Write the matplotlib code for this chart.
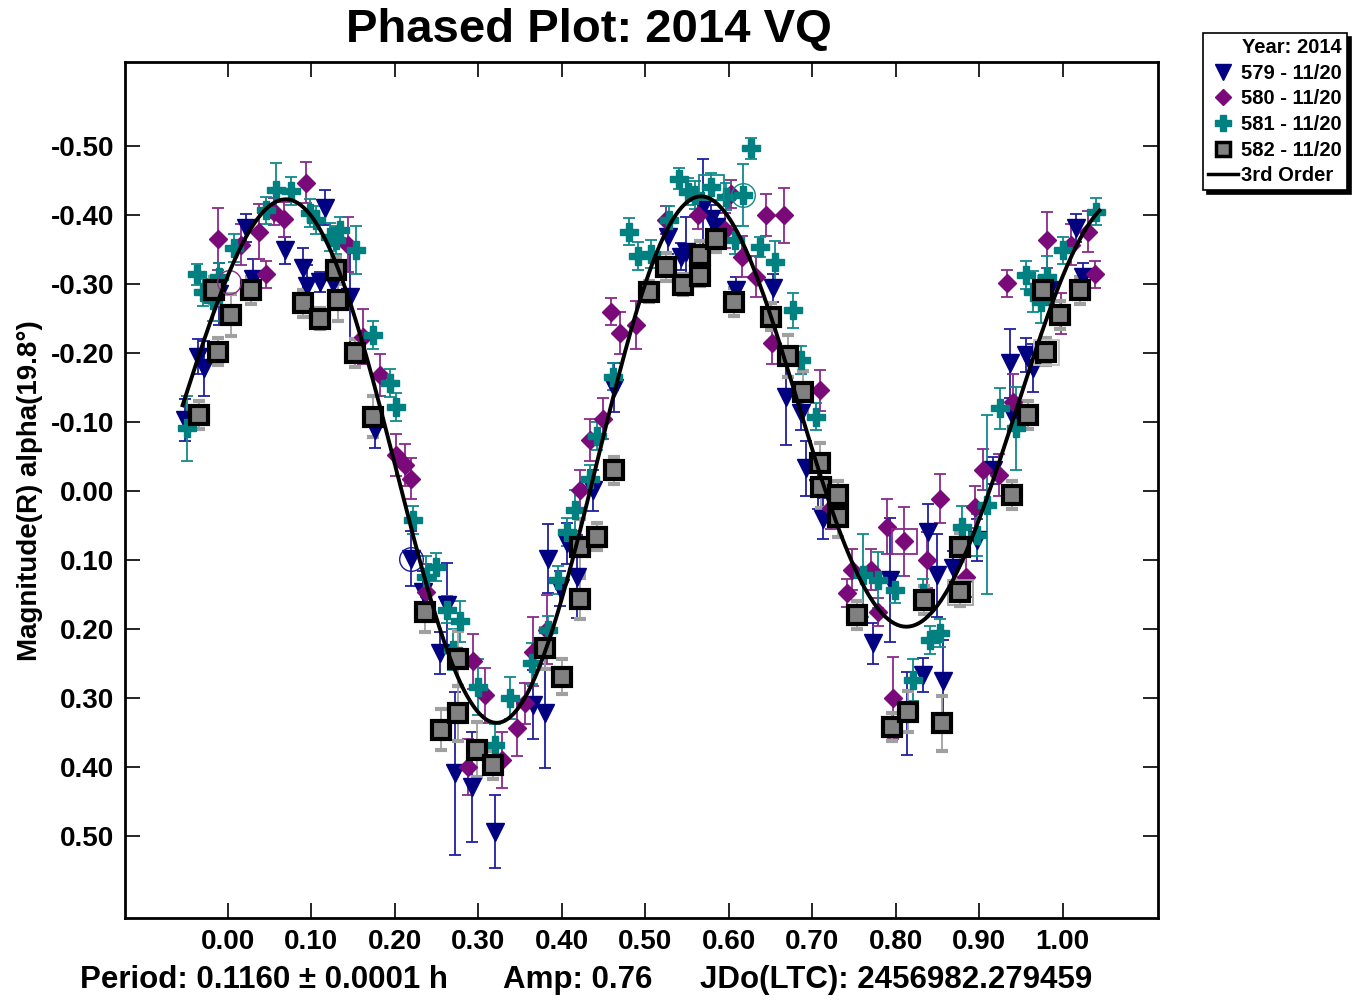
import numpy as np
import matplotlib
matplotlib.use("Agg")
import matplotlib.pyplot as plt
from matplotlib.lines import Line2D

plt.rcParams['font.family'] = ['Liberation Sans', 'DejaVu Sans']
plt.rcParams['font.weight'] = 'bold'

# session 579 (phase, mag, error)
ph_579 = [-0.051, -0.036, -0.028, -0.010, 0.022, 0.030, 0.068, 0.090, 0.095, 0.110, 0.116, 0.126,
          0.146, 0.176, 0.220, 0.234, 0.262, 0.254, 0.272, 0.292, 0.320, 0.366, 0.380, 0.384,
          0.398, 0.406, 0.418, 0.438, 0.463, 0.527, 0.543, 0.549, 0.569, 0.579, 0.585, 0.609,
          0.653, 0.669, 0.687, 0.693, 0.707, 0.713, 0.773, 0.793, 0.839, 0.849, 0.833, 0.857,
          0.813, 0.897, 0.917, 0.869, 0.937, 0.956, 0.964, 0.940, 1.016, 1.024, 0.984]
mag_579 = [-0.103, -0.195, -0.178, -0.285, -0.381, -0.307, -0.349, -0.323, -0.297, -0.303, -0.411, -0.301,
           -0.282, -0.088, 0.098, 0.146, 0.165, 0.235, 0.409, 0.429, 0.494, 0.310, 0.322, 0.098,
           0.141, 0.076, 0.124, -0.001, -0.150, -0.369, -0.340, -0.347, -0.412, -0.395, -0.383, -0.291,
           -0.294, -0.137, -0.113, -0.033, -0.004, 0.040, 0.221, 0.129, 0.059, 0.122, 0.267, 0.276,
           0.322, 0.071, -0.030, 0.112, -0.185, -0.197, -0.178, -0.108, -0.381, -0.311, -0.291]
err_579 = [0.030, 0.025, 0.040, 0.045, 0.020, 0.030, 0.020, 0.030, 0.030, 0.015, 0.025, 0.020,
           0.070, 0.025, 0.040, 0.030, 0.060, 0.030, 0.118, 0.080, 0.053, 0.050, 0.080, 0.050,
           0.025, 0.030, 0.060, 0.030, 0.035, 0.025, 0.020, 0.050, 0.070, 0.020, 0.020, 0.020,
           0.020, 0.070, 0.025, 0.040, 0.030, 0.030, 0.030, 0.090, 0.040, 0.060, 0.025, 0.060,
           0.060, 0.030, 0.020, 0.025, 0.050, 0.025, 0.035, 0.020, 0.020, 0.020, 0.020]

# session 580
ph_580 = [-0.012, 0.016, 0.038, 0.046, 0.056, 0.067, 0.094, 0.144, 0.162, 0.182, 0.202, 0.212,
          0.220, 0.238, 0.294, 0.308, 0.288, 0.328, 0.346, 0.356, 0.366, 0.382, 0.422, 0.434,
          0.449, 0.459, 0.470, 0.489, 0.525, 0.563, 0.595, 0.603, 0.616, 0.633, 0.645, 0.666,
          0.652, 0.709, 0.723, 0.747, 0.741, 0.770, 0.779, 0.789, 0.810, 0.797, 0.837, 0.853,
          0.884, 0.895, 0.904, 0.924, 0.940, 0.933, 0.981, 1.030, 1.039, 0.998, 1.010]
mag_580 = [-0.365, -0.357, -0.376, -0.314, -0.405, -0.394, -0.447, -0.357, -0.224, -0.168, -0.052, -0.038,
           -0.018, 0.146, 0.247, 0.296, 0.400, 0.390, 0.344, 0.308, 0.233, 0.201, -0.001, -0.074,
           -0.105, -0.260, -0.229, -0.241, -0.393, -0.400, -0.378, -0.431, -0.340, -0.311, -0.400, -0.400,
           -0.214, -0.146, 0.025, 0.114, 0.148, 0.114, 0.175, 0.052, 0.073, 0.300, 0.100, 0.011,
           0.124, 0.023, -0.031, -0.023, -0.129, -0.301, -0.364, -0.376, -0.314, -0.257, -0.357]
err_580 = [0.045, 0.030, 0.040, 0.020, 0.020, 0.025, 0.030, 0.040, 0.040, 0.030, 0.030, 0.030,
           0.030, 0.040, 0.040, 0.040, 0.040, 0.040, 0.040, 0.030, 0.050, 0.050, 0.030, 0.030,
           0.030, 0.020, 0.030, 0.035, 0.020, 0.020, 0.025, 0.020, 0.030, 0.030, 0.030, 0.040,
           0.030, 0.030, 0.030, 0.030, 0.020, 0.030, 0.020, 0.040, 0.050, 0.060, 0.040, 0.035,
           0.030, 0.030, 0.030, 0.030, 0.040, 0.020, 0.040, 0.030, 0.020, 0.030, 0.030]

# session 581
ph_581 = [-0.049, -0.037, -0.030, -0.018, -0.010, 0.008, 0.046, 0.058, 0.076, 0.098, 0.106, 0.122,
          0.134, 0.130, 0.154, 0.174, 0.194, 0.202, 0.222, 0.250, 0.238, 0.262, 0.278, 0.270,
          0.300, 0.320, 0.338, 0.364, 0.384, 0.396, 0.406, 0.416, 0.434, 0.442, 0.461, 0.481,
          0.491, 0.507, 0.529, 0.541, 0.551, 0.559, 0.579, 0.597, 0.607, 0.617, 0.627, 0.637,
          0.655, 0.677, 0.687, 0.705, 0.761, 0.779, 0.799, 0.833, 0.841, 0.853, 0.821, 0.879,
          0.897, 0.909, 0.925, 0.944, 0.956, 0.964, 0.974, 0.981, 1.000, 1.040]
mag_581 = [-0.091, -0.314, -0.288, -0.277, -0.310, -0.352, -0.407, -0.436, -0.435, -0.403, -0.393, -0.368,
           -0.378, -0.364, -0.349, -0.226, -0.157, -0.122, 0.042, 0.110, 0.124, 0.172, 0.189, 0.230,
           0.284, 0.368, 0.300, 0.250, 0.201, 0.129, 0.059, 0.028, -0.018, -0.080, -0.166, -0.376,
           -0.341, -0.344, -0.393, -0.453, -0.434, -0.429, -0.441, -0.427, -0.364, -0.429, -0.497, -0.354,
           -0.332, -0.262, -0.190, -0.108, 0.122, 0.129, 0.143, 0.148, 0.216, 0.206, 0.274, 0.052,
           0.064, 0.020, -0.120, -0.091, -0.313, -0.289, -0.274, -0.311, -0.349, -0.405]
err_581 = [0.047, 0.015, 0.020, 0.030, 0.020, 0.020, 0.020, 0.040, 0.020, 0.020, 0.020, 0.020,
           0.020, 0.020, 0.035, 0.020, 0.020, 0.020, 0.020, 0.020, 0.030, 0.020, 0.030, 0.030,
           0.040, 0.030, 0.030, 0.030, 0.020, 0.020, 0.020, 0.030, 0.020, 0.020, 0.020, 0.020,
           0.020, 0.020, 0.020, 0.015, 0.020, 0.020, 0.020, 0.020, 0.020, 0.045, 0.015, 0.015,
           0.030, 0.025, 0.020, 0.020, 0.060, 0.040, 0.020, 0.020, 0.020, 0.020, 0.030, 0.030,
           0.030, 0.130, 0.030, 0.060, 0.020, 0.030, 0.030, 0.030, 0.020, 0.020]

# session 582
ph_582 = [-0.034, -0.012, -0.016, 0.004, 0.028, 0.090, 0.110, 0.130, 0.132, 0.152, 0.174, 0.236,
          0.276, 0.256, 0.276, 0.298, 0.318, 0.380, 0.400, 0.422, 0.422, 0.442, 0.463, 0.505,
          0.525, 0.545, 0.565, 0.566, 0.585, 0.606, 0.650, 0.671, 0.689, 0.709, 0.711, 0.731,
          0.731, 0.753, 0.795, 0.815, 0.834, 0.855, 0.877, 0.877, 0.939, 0.958, 0.980, 0.997,
          0.976, 1.020]
mag_582 = [-0.110, -0.202, -0.291, -0.255, -0.291, -0.272, -0.250, -0.320, -0.277, -0.200, -0.108, 0.175,
           0.243, 0.346, 0.322, 0.375, 0.397, 0.228, 0.269, 0.156, 0.081, 0.066, -0.030, -0.289,
           -0.325, -0.299, -0.342, -0.312, -0.366, -0.274, -0.253, -0.196, -0.144, -0.040, -0.006, 0.006,
           0.037, 0.180, 0.342, 0.320, 0.158, 0.337, 0.081, 0.146, 0.006, -0.110, -0.202, -0.255,
           -0.291, -0.291]
err_582 = [0.020, 0.020, 0.020, 0.030, 0.020, 0.020, 0.015, 0.020, 0.030, 0.020, 0.030, 0.030,
           0.040, 0.030, 0.040, 0.040, 0.020, 0.030, 0.025, 0.030, 0.040, 0.020, 0.020, 0.015,
           0.020, 0.015, 0.020, 0.015, 0.020, 0.020, 0.020, 0.030, 0.030, 0.030, 0.030, 0.020,
           0.030, 0.020, 0.020, 0.030, 0.020, 0.040, 0.020, 0.020, 0.020, 0.020, 0.020, 0.020,
           0.020, 0.020]

# flagged points (drawn with an open outline)
flag_circle_ph = [0.220, 0.002, 0.617]
flag_circle_mag = [0.098, -0.303, -0.429]
flag_circle_col = ['#1a1a9a', '#8a2a8a', '#108a8a']
flag_square_ph = [0.579, 0.810, 0.877, 0.980]
flag_square_mag = [-0.441, 0.073, 0.146, -0.202]
flag_square_col = ['#108a8a', '#8a2a8a', '#a0a0a0', '#c0c0c0']

# fitted lightcurve, sampled along the drawn 3rd order curve
curve_ph = [-0.054, -0.034, -0.010, 0.011, 0.030, 0.071, 0.110, 0.130, 0.150, 0.170, 0.190, 0.218,
            0.242, 0.266, 0.290, 0.317, 0.346, 0.365, 0.386, 0.410, 0.434, 0.461, 0.481, 0.502,
            0.521, 0.541, 0.565, 0.581, 0.601, 0.621, 0.641, 0.661, 0.681, 0.701, 0.717, 0.737,
            0.757, 0.777, 0.797, 0.813, 0.837, 0.857, 0.877, 0.897, 0.921, 0.940, 0.960, 0.981,
            1.020, 1.041]
curve_mag = [-0.103, -0.183, -0.277, -0.339, -0.378, -0.414, -0.383, -0.330, -0.272, -0.186, -0.103, 0.061,
             0.177, 0.245, 0.293, 0.332, 0.317, 0.274, 0.216, 0.110, -0.006, -0.136, -0.223, -0.301,
             -0.364, -0.403, -0.425, -0.422, -0.397, -0.354, -0.291, -0.214, -0.136, -0.059, 0.017, 0.067,
             0.125, 0.168, 0.191, 0.201, 0.191, 0.158, 0.110, 0.032, -0.041, -0.117, -0.190, -0.258,
             -0.364, -0.403]
order = 3

# 3rd order Fourier fit
cp = np.array(curve_ph)
cols = [np.ones_like(cp)]
for k in range(1, order + 1):
    cols += [np.cos(2 * np.pi * k * cp), np.sin(2 * np.pi * k * cp)]
coef = np.linalg.lstsq(np.column_stack(cols), np.array(curve_mag), rcond=None)[0]
fit_x = np.linspace(-0.054, 1.044, 600)
fit_y = coef[0] * np.ones_like(fit_x)
for k in range(1, order + 1):
    fit_y += coef[2 * k - 1] * np.cos(2 * np.pi * k * fit_x) + coef[2 * k] * np.sin(2 * np.pi * k * fit_x)

fig = plt.figure(figsize=(13.58, 10), dpi=100)
ax = fig.add_axes([125 / 1358, 82 / 1000, 1033 / 1358, 856 / 1000])

eb = dict(linestyle='none', elinewidth=1.3, capsize=4, capthick=1.3)
ax.errorbar(ph_579, mag_579, yerr=err_579, fmt='v', ms=12.5, mfc='#000080', mec='#000080',
            ecolor='#2020a0', zorder=3, **eb)
ax.errorbar(ph_580, mag_580, yerr=err_580, fmt='D', ms=9, mfc='#7a0a7a', mec='#7a0a7a',
            ecolor='#8a2a8a', zorder=3, **eb)
ax.errorbar(ph_581, mag_581, yerr=err_581, fmt='P', ms=13, mfc='#008080', mec='#008080',
            ecolor='#108a8a', zorder=3, **eb)
ax.errorbar(ph_582, mag_582, yerr=err_582, fmt='s', ms=13.5, mfc='#808080', mec='black', mew=3,
            ecolor='#a0a0a0', zorder=3, **eb)

for x, y, c in zip(flag_circle_ph, flag_circle_mag, flag_circle_col):
    ax.plot(x, y, 'o', ms=17, mfc='none', mec=c, mew=1.0, zorder=4)
for x, y, c in zip(flag_square_ph, flag_square_mag, flag_square_col):
    ax.plot(x, y, 's', ms=18, mfc='none', mec=c, mew=1.3, zorder=4)

ax.plot(fit_x, fit_y, color='black', lw=2.8, zorder=5)

ax.set_xlim(-0.123, 1.114)
ax.set_ylim(0.619, -0.622)
xt = np.round(np.arange(0, 1.01, 0.1), 2)
yt = np.round(np.arange(-0.5, 0.51, 0.1), 2)
ax.set_xticks(xt)
ax.set_xticklabels(['%.2f' % v for v in xt])
ax.set_yticks(yt)
ax.set_yticklabels(['%.2f' % v if v != 0 else '0.00' for v in yt])
ax.tick_params(direction='in', length=11, width=1.2, top=True, right=True,
               labelsize=20, pad=8)
for lab in ax.get_xticklabels() + ax.get_yticklabels():
    lab.set_fontweight('bold')
for s in ax.spines.values():
    s.set_linewidth(2)

fig.text(589 / 1358, 0.970, 'Phased Plot: 2014 VQ', ha='center', va='center', fontsize=34, fontweight='bold')
fig.text(30 / 1358, 0.509, 'Magnitude(R) alpha(19.8°)', rotation=90, ha='center', va='center',
         fontsize=20, fontweight='bold')
fig.text(80 / 1358, 0.020, 'Period: 0.1160 ± 0.0001 h', ha='left', va='center', fontsize=22.5, fontweight='bold')
fig.text(503 / 1358, 0.020, 'Amp: 0.76', ha='left', va='center', fontsize=22.5, fontweight='bold')
fig.text(700 / 1358, 0.020, 'JDo(LTC): 2456982.279459', ha='left', va='center', fontsize=22.5, fontweight='bold')

handles = [
    Line2D([], [], ls='none', marker='v', ms=11, mfc='#000080', mec='#000080'),
    Line2D([], [], ls='none', marker='D', ms=8, mfc='#7a0a7a', mec='#7a0a7a'),
    Line2D([], [], ls='none', marker='P', ms=12, mfc='#008080', mec='#008080'),
    Line2D([], [], ls='none', marker='s', ms=10, mfc='#808080', mec='black', mew=2.5),
    Line2D([], [], color='black', lw=2.5),
]
labels = ['579 - 11/20', '580 - 11/20', '581 - 11/20', '582 - 11/20', '3rd Order']
leg = fig.legend(handles, labels, title='Year: 2014', loc='upper left',
                 bbox_to_anchor=(1203 / 1358, 1 - 33 / 1000), borderaxespad=0,
                 prop={'size': 14.5, 'weight': 'bold'}, title_fontproperties={'size': 14.5, 'weight': 'bold'},
                 alignment='right', fancybox=False, edgecolor='black', framealpha=1,
                 shadow={'color': 'black', 'alpha': 1, 'ox': 3, 'oy': -3},
                 handlelength=1.5, handletextpad=0.15, labelspacing=0.33, borderpad=0.25)
leg.get_frame().set_linewidth(1.2)

fig.savefig('out.png', dpi=100)
